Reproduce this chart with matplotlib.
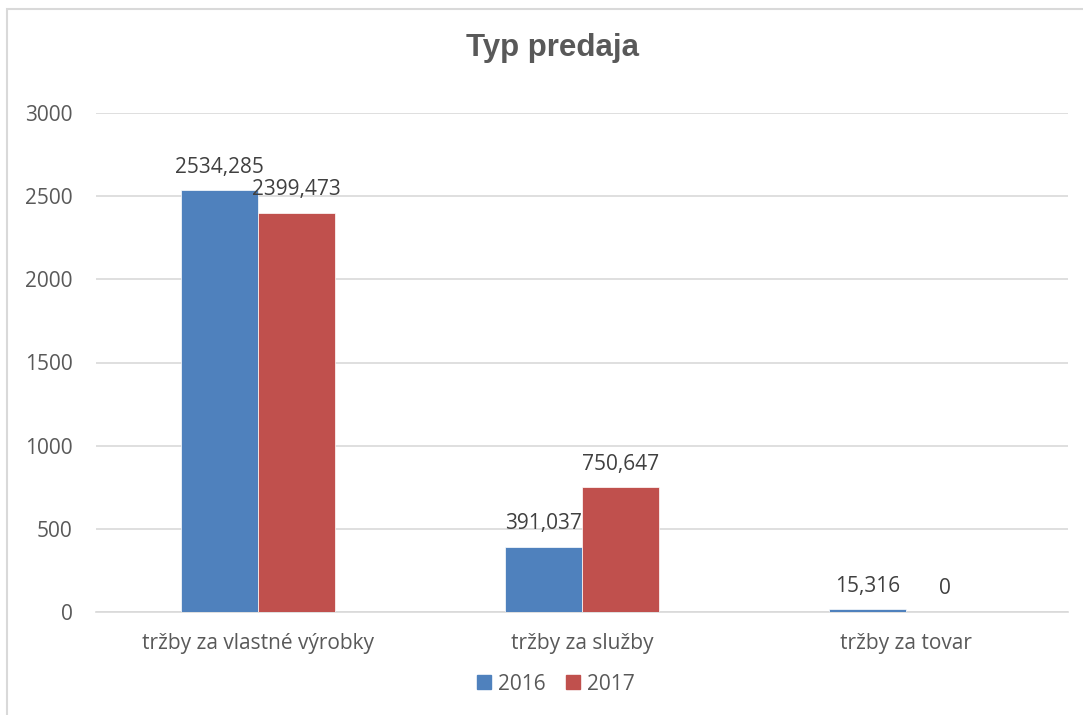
import matplotlib
matplotlib.use("Agg")
import matplotlib.pyplot as plt
from matplotlib.patches import Rectangle, Patch
import numpy as np

categories = ["tržby za vlastné výrobky", "tržby za služby", "tržby za tovar"]
series_names = ["2016", "2017"]
values_2016 = [2534.285, 391.037, 15.316]
values_2017 = [2399.473, 750.647, 0]
labels_2016 = ["2534,285", "391,037", "15,316"]
labels_2017 = ["2399,473", "750,647", "0"]
yticks = [0, 500, 1000, 1500, 2000, 2500, 3000]

blue = "#4F81BD"
red = "#C0504D"
W, H = 1083, 715

fig = plt.figure(figsize=(W / 100, H / 100), dpi=100)
ax = fig.add_axes([96 / W, 1 - 612 / H, (1068 - 96) / W, (612 - 113) / H])

x = np.arange(len(categories))
bw = 77 / 324
ax.bar(x - bw / 2, values_2016, bw, color=blue, edgecolor="white", linewidth=0.5, zorder=3)
ax.bar(x + bw / 2, values_2017, bw, color=red, edgecolor="white", linewidth=0.5, zorder=3)

font = "Open Sans"
fs = 15
for i in range(len(categories)):
    ax.annotate(labels_2016[i], (x[i] - bw / 2, values_2016[i]), xytext=(0, 9),
                textcoords="offset points", ha="center", va="bottom",
                fontsize=fs, color="#404040", family=font)
    ax.annotate(labels_2017[i], (x[i] + bw / 2, values_2017[i]), xytext=(0, 9),
                textcoords="offset points", ha="center", va="bottom",
                fontsize=fs, color="#404040", family=font)

ax.set_xlim(-0.5, len(categories) - 0.5)
ax.set_ylim(0, 3000)
ax.set_yticks(yticks)
ax.set_yticklabels([str(t) for t in yticks], family=font, fontsize=fs, color="#595959")
ax.set_xticks(x)
ax.set_xticklabels(categories, family=font, fontsize=fs, color="#595959")
ax.tick_params(axis="both", length=0)
ax.tick_params(axis="y", pad=17)
ax.tick_params(axis="x", pad=15)
ax.grid(axis="y", color="#D9D9D9", linewidth=1.2, zorder=0)
for s in ["top", "right", "left"]:
    ax.spines[s].set_visible(False)
ax.spines["bottom"].set_color("#D9D9D9")
ax.spines["bottom"].set_linewidth(1.2)

fig.text(552 / W, 1 - 48 / H, "Typ predaja", ha="center", va="center",
         fontsize=22.5, fontweight="bold", color="#595959", family="Liberation Sans")

handles = [Patch(color=blue), Patch(color=red)]
leg = fig.legend(handles, series_names, loc="center", bbox_to_anchor=(556 / W, 1 - 684 / H),
                 ncol=2, frameon=False, prop={"family": font, "size": fs},
                 handlelength=0.65, handleheight=0.65, handletextpad=0.35, columnspacing=1.0)
for t in leg.get_texts():
    t.set_color("#595959")

border = Rectangle((7 / W, -0.1), 1.2, 1 - 9 / H + 0.1, transform=fig.transFigure,
                   fill=False, edgecolor="#D9D9D9", linewidth=1.5)
fig.patches.append(border)

fig.savefig("out.png", dpi=100)
